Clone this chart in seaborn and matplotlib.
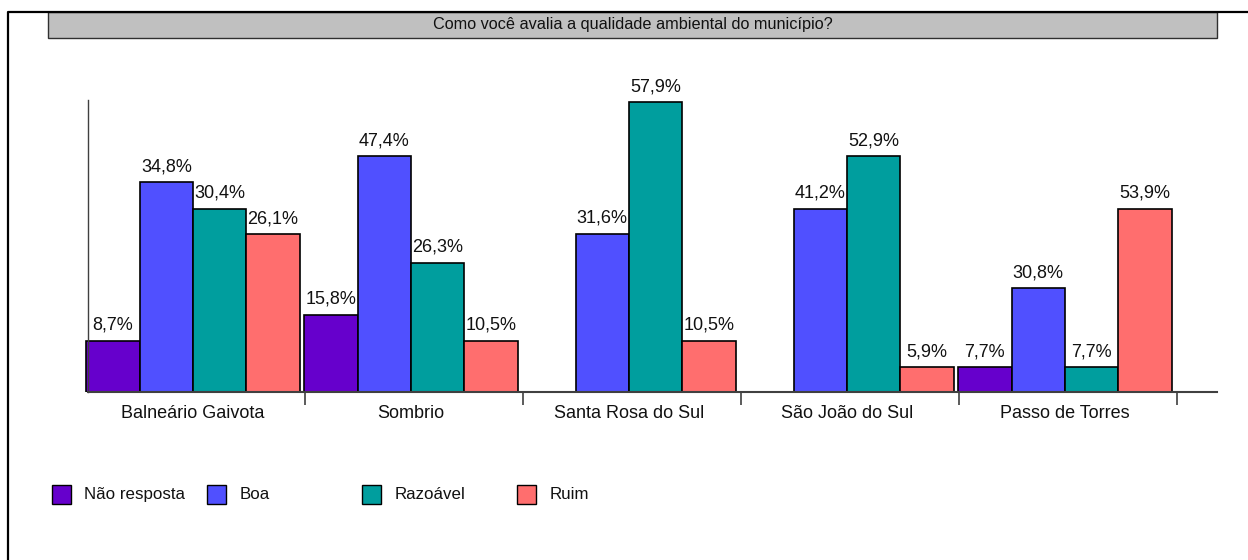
import pandas as pd
import seaborn as sns
import matplotlib.pyplot as plt
from matplotlib.patches import Rectangle
from matplotlib.lines import Line2D

sns.set_style('white')
plt.rcParams['font.family'] = ['Liberation Sans', 'DejaVu Sans']

titulo = 'Como você avalia a qualidade ambiental do município?'
municipios = ['Balneário Gaivota', 'Sombrio', 'Santa Rosa do Sul', 'São João do Sul', 'Passo de Torres']
respostas = ['Não resposta', 'Boa', 'Razoável', 'Ruim']
cores = ['#6600CC', '#5050FF', '#009E9E', '#FF6E6E']

# rótulos impressos sobre as barras (None = sem barra)
nao_resposta = ['8,7%', '15,8%', None, None, '7,7%']
boa = ['34,8%', '47,4%', '31,6%', '41,2%', '30,8%']
razoavel = ['30,4%', '26,3%', '57,9%', '52,9%', '7,7%']
ruim = ['26,1%', '10,5%', '10,5%', '5,9%', '53,9%']

alt_nao_resposta = [10.5, 15.9, None, None, 5.1]
alt_boa = [43.1, 48.5, 32.5, 37.7, 21.3]
alt_razoavel = [37.7, 26.6, 59.6, 48.5, 5.1]
alt_ruim = [32.4, 10.5, 10.5, 5.1, 37.7]

rotulos = [nao_resposta, boa, razoavel, ruim]
alturas = [alt_nao_resposta, alt_boa, alt_razoavel, alt_ruim]

linhas = []
for resp, rot, alt in zip(respostas, rotulos, alturas):
    for mun, r, a in zip(municipios, rot, alt):
        if a is not None:
            linhas.append({'municipio': mun, 'resposta': resp, 'altura': a, 'rotulo': r})
df = pd.DataFrame(linhas)

W, H = 1248, 560
fig = plt.figure(figsize=(W / 100, H / 100), dpi=100)
ax = fig.add_axes([84 / W, 168 / H, (1217 - 84) / W, 292 / H])

sns.barplot(data=df, x='municipio', y='altura', hue='resposta', order=municipios,
            hue_order=respostas, palette=cores, width=0.98, edgecolor='black',
            linewidth=1.2, saturation=1, legend=False, ax=ax)

for cont, resp in zip(ax.containers, respostas):
    sub = df[df['resposta'] == resp].set_index('municipio')
    labels = []
    for barra in cont:
        idx = int(round(barra.get_x() + barra.get_width() / 2))
        labels.append(sub.loc[municipios[idx], 'rotulo'])
    ax.bar_label(cont, labels=labels, padding=5, fontsize=13, color='#111111')

xmax = -0.5 + 1133 / 218
ax.set_xlim(-0.5, xmax)
ax.set_ylim(0, 60)
ax.set_yticks([])
ax.set_xlabel('')
ax.set_ylabel('')
desl = 3 / 218
ax.set_xticks([0.5 + desl, 1.5 + desl, 2.5 + desl, 3.5 + desl, 4.5 + desl])
ax.set_xticklabels([])
ax.set_xticks(range(len(municipios)), minor=True)
ax.set_xticklabels(municipios, minor=True)
ax.tick_params(axis='x', which='major', direction='out', length=9.5, width=1.2,
               color='#404040', bottom=True)
ax.tick_params(axis='x', which='minor', length=0, pad=9, labelsize=13, labelcolor='#111111')
for s in ['top', 'right']:
    ax.spines[s].set_visible(False)
ax.spines['left'].set_position(('data', -0.5 + 4 / 218))
ax.spines['left'].set_color('#404040')
ax.spines['left'].set_linewidth(1.0)
ax.spines['bottom'].set_bounds(-0.5 + 4 / 218, xmax)
ax.spines['bottom'].set_color('#404040')
ax.spines['bottom'].set_linewidth(1.5)

# moldura
fig.add_artist(Line2D([8 / W, 8 / W, 1], [0, 1 - 12 / H, 1 - 12 / H],
                      transform=fig.transFigure, color='black', lw=1.6))

# caixa do título
fig.add_artist(Rectangle((48 / W, 1 - 38 / H), (1217 - 48) / W, 26 / H,
                         transform=fig.transFigure, facecolor='#C0C0C0',
                         edgecolor='#303030', lw=1))
fig.text(632.5 / W, 1 - 25 / H, titulo, ha='center', va='center', fontsize=11.7, color='#111111')

# legenda
for i, (resp, cor) in enumerate(zip(respostas, cores)):
    x0 = 51.5 + 155 * i
    fig.add_artist(Rectangle((x0 / W, 1 - 504 / H), 19 / W, 19 / H,
                             transform=fig.transFigure, facecolor=cor,
                             edgecolor='black', lw=1))
    fig.text((x0 + 33) / W, 1 - 494.5 / H, resp, ha='left', va='center',
             fontsize=12.2, color='#111111')

plt.savefig('out.png', dpi=100)
